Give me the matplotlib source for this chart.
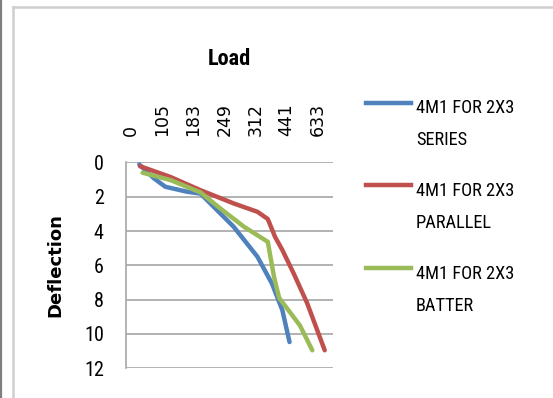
import matplotlib
matplotlib.use("Agg")
import matplotlib.pyplot as plt
from matplotlib.lines import Line2D
import numpy as np

# load categories (x axis) - only every 3rd category carries a label
load_labels = ['0', '105', '183', '249', '312', '441', '633']
n_categories = 20

# deflection curves, x given as category position
series_x = [0.78, 2.2, 3.3, 5.4, 6.7, 9.9, 12.2, 13.6, 14.6, 15.3]
series_y = [0.12, 0.93, 1.42, 1.71, 1.82, 3.75, 5.5, 7.06, 8.6, 10.47]

parallel_x = [0.85, 3.8, 6.7, 9.9, 12.2, 13.2, 13.9, 14.6, 15.7, 17.0, 18.7]
parallel_y = [0.22, 0.85, 1.62, 2.39, 2.88, 3.3, 4.34, 5.1, 6.47, 8.2, 10.95]

batter_x = [1.1, 3.8, 6.7, 8.6, 10.9, 13.2, 13.8, 14.3, 15.2, 16.3, 17.5]
batter_y = [0.6, 1.03, 1.75, 2.68, 3.75, 4.63, 6.67, 7.9, 8.62, 9.5, 10.95]

labels = ['4M1 FOR 2X3\nSERIES', '4M1 FOR 2X3\nPARALLEL', '4M1 FOR 2X3\nBATTER']
colors = ['#4F81BD', '#C0504D', '#9BBB59']

W, H = 553, 398
NARROW = ['Roboto Condensed', 'DejaVu Sans Condensed', 'Roboto', 'DejaVu Sans']


def px(x, y):
    # pixel position (from top left) -> figure fraction
    return x / W, 1 - y / H


fig = plt.figure(figsize=(W / 100, H / 100), dpi=100)
ax = fig.add_axes([126 / W, 1 - 368.3 / H, (333 - 126) / W, (368.3 - 162.4) / H])

for xs, ys, c in zip([series_x, parallel_x, batter_x],
                     [series_y, parallel_y, batter_y], colors):
    ax.plot(xs, ys, color=c, lw=3.2, solid_capstyle='round',
            solid_joinstyle='round', zorder=3)

ax.set_xlim(-0.5, n_categories - 0.5)
ax.set_ylim(12, 0)
ax.set_yticks(np.arange(0, 13, 2))
ax.set_xticks(np.arange(0, n_categories, 3))
ax.set_xticklabels(load_labels, rotation=90, family='DejaVu Sans', fontsize=12.5)
ax.xaxis.tick_top()
ax.tick_params(axis='x', length=0, pad=19)
ax.tick_params(axis='y', length=0, pad=16, labelsize=14.5)
for t in ax.get_yticklabels():
    t.set_family(NARROW)

ax.grid(axis='y', color='#A6A6A6', lw=1.2)
ax.set_axisbelow(True)
for s in ['top', 'right', 'bottom']:
    ax.spines[s].set_visible(False)
ax.spines['left'].set_color('#A6A6A6')
ax.spines['left'].set_linewidth(1.2)

ax.xaxis.set_label_position('top')
ax.set_xlabel('Load', family=NARROW, fontweight='bold', fontsize=16, labelpad=27)
ax.set_ylabel('Deflection', family='DejaVu Sans', fontweight='bold',
              fontsize=13, labelpad=14)

# legend drawn by hand (Excel style, handle next to first line)
for i, (lab, c) in enumerate(zip(labels, colors)):
    y0 = 102.7 + 82.7 * i
    fig.add_artist(Line2D([366 / W, 411 / W], [1 - y0 / H] * 2, color=c, lw=3.2,
                          transform=fig.transFigure))
    for j, line in enumerate(lab.split('\n')):
        fig.text(*px(416, y0 + 10.6 + 32 * j), line, va='baseline', ha='left',
                 fontsize=13.2, family=NARROW)

# chart frame
fig.add_artist(Line2D([12.5 / W, 12.5 / W], [0, 1 - 6.5 / H], color='#CFCFCF', lw=1.8,
                      transform=fig.transFigure))
fig.add_artist(Line2D([12.5 / W, 1], [1 - 6.5 / H] * 2, color='#CFCFCF', lw=1.8,
                      transform=fig.transFigure))
fig.add_artist(Line2D([1.2 / W, 1.2 / W], [0, 1], color='#7F7F7F', lw=1.6,
                      transform=fig.transFigure))

fig.savefig('out.png', dpi=100)
